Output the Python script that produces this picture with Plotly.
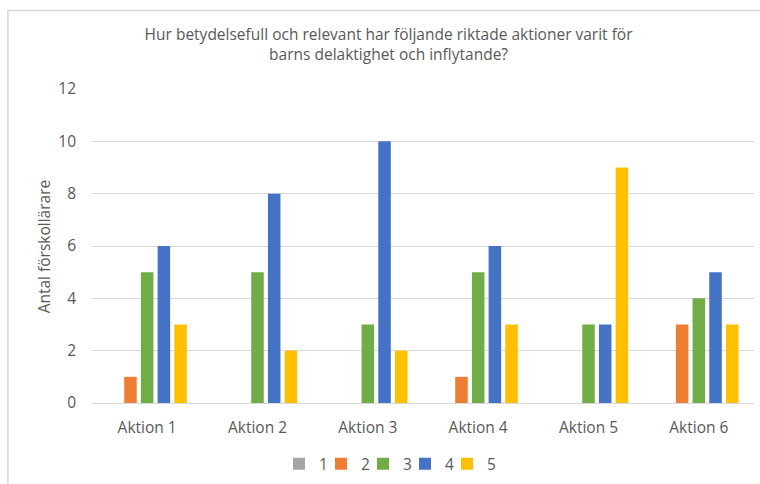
import plotly.graph_objects as go

categories = ["Aktion 1", "Aktion 2", "Aktion 3", "Aktion 4", "Aktion 5", "Aktion 6"]
series_names = ["1", "2", "3", "4", "5"]
values_1 = [0, 0, 0, 0, 0, 0]
values_2 = [1, 0, 0, 1, 0, 3]
values_3 = [5, 5, 3, 5, 3, 4]
values_4 = [6, 8, 10, 6, 3, 5]
values_5 = [3, 2, 2, 3, 9, 3]
y_ticks = [0, 2, 4, 6, 8, 10, 12]

colors = ["#A5A5A5", "#ED7D31", "#70AD47", "#4472C4", "#FFC000"]
font_family = "'Open Sans', sans-serif"
text_color = "#595959"
fs = 15.5

fig = go.Figure()

legend_ids = ["legend", "legend2", "legend3", "legend4", "legend5"]

for name, vals, col, lg in zip(series_names, [values_1, values_2, values_3, values_4, values_5], colors, legend_ids):
    fig.add_trace(
        go.Bar(
            x=categories,
            y=vals,
            name=name,
            legend=lg,
            marker=dict(color=col, line=dict(width=0)),
        )
    )

fig.update_layout(
    width=760,
    height=484,
    plot_bgcolor="white",
    paper_bgcolor="white",
    barmode="group",
    bargap=0.243,
    bargroupgap=0.25,
    margin=dict(l=92, r=6, t=89, b=81),
    font=dict(family=font_family, color=text_color, size=fs),
    title=dict(
        text="Hur betydelsefull och relevant har följande riktade aktioner varit för<br>barns delaktighet och inflytande?",
        x=0.448,
        xref="paper",
        xanchor="center",
        y=0.918,
        yref="container",
        yanchor="middle",
        font=dict(size=fs, color=text_color, family=font_family),
    ),
    showlegend=True,
)

# one small legend per series so the entries can sit closer together
start_px, step_px = 279, 42
for i, lg in enumerate(legend_ids):
    fig.update_layout({
        lg: dict(
            orientation="h",
            x=(start_px + step_px * i - 92) / 662,
            xanchor="left",
            xref="paper",
            y=0.041,
            yref="container",
            yanchor="middle",
            font=dict(size=fs, color=text_color),
            itemwidth=30,
            bgcolor="rgba(0,0,0,0)",
        )
    })

fig.update_xaxes(
    showgrid=False,
    showline=True,
    linecolor="#d9d9d9",
    linewidth=1,
    ticks="",
    ticklabelstandoff=10,
    tickfont=dict(size=fs, color=text_color),
)

fig.update_yaxes(
    range=[0, 12],
    tickvals=y_ticks,
    showgrid=True,
    gridcolor="#d9d9d9",
    gridwidth=1,
    zeroline=False,
    showline=False,
    ticks="",
    ticklabelstandoff=15,
    tickfont=dict(size=fs, color=text_color),
)

fig.add_annotation(
    text="Antal förskollärare",
    xref="paper",
    yref="paper",
    x=-0.072,
    xanchor="center",
    y=0.5,
    yanchor="middle",
    textangle=-90,
    showarrow=False,
    font=dict(size=fs, color=text_color),
)

# chart frame
fig.add_shape(
    type="rect",
    xref="paper",
    yref="paper",
    x0=-0.127,
    y0=-0.5,
    x1=1.2,
    y1=1.25,
    line=dict(color="#d9d9d9", width=1.5),
    fillcolor="rgba(0,0,0,0)",
    layer="below",
)

fig.write_html(
    "out.html",
    config={"displayModeBar": False},
    post_script="document.body.style.margin='0';",
)
